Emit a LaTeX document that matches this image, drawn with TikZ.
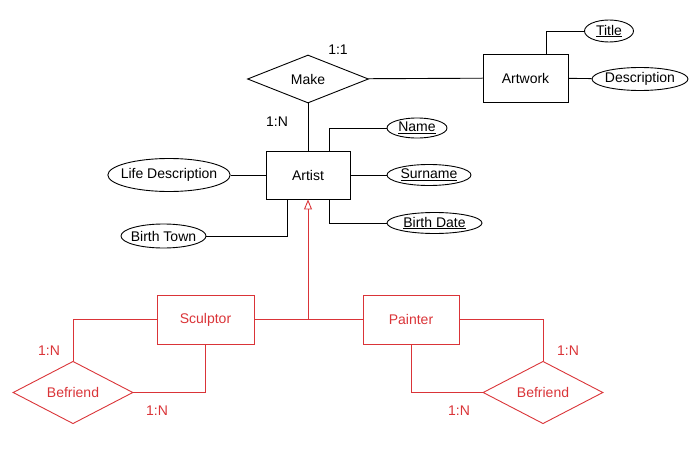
\documentclass[tikz,border=0pt]{standalone}
\usepackage{fontspec}
\setmainfont{Liberation Sans}
\usetikzlibrary{shapes.geometric,arrows.meta}
\definecolor{erred}{RGB}{218,52,56}

\begin{document}
\begin{tikzpicture}[x=1pt,y=-1pt,line width=0.9pt,
  font=\fontsize{14}{16}\selectfont,
  entity/.style={draw,rectangle,inner sep=0pt,minimum width=85pt,minimum height=48pt},
  relation/.style={draw,diamond,inner sep=0pt,minimum width=121pt,minimum height=48pt},
  attr/.style={draw,ellipse,inner xsep=-5pt,inner ysep=0pt},
  card/.style={inner sep=0pt}]
  \useasboundingbox (0,0) rectangle (696,452);
  % entites
  \node[relation] (make) at (308,79) {Make};
  \node[entity] (artwork) at (525.5,78) {Artwork};
  \node[entity, minimum width=84pt] (artist) at (308,175) {Artist};
  % attributs
  \node[attr, minimum width=49pt, minimum height=22pt] (title) at (609,31) {\underline{Title}};
  \node[attr, minimum width=96pt, minimum height=23pt] (descr) at (640,79) {Description};
  \node[attr, minimum width=60pt, minimum height=20pt] (name) at (417,128) {\underline{Name}};
  \node[attr, minimum width=84pt, minimum height=21pt] (surname) at (429,175) {\underline{Surname}};
  \node[attr, minimum width=95pt, minimum height=21pt] (bdate) at (434.5,223) {\underline{Birth Date}};
  \node[attr, minimum width=122pt, minimum height=33pt] (lifedescr) at (169,175) {Life Description};
  \node[attr, minimum width=85pt, minimum height=24pt] (btown) at (163.5,236) {Birth Town};
  % liens
  \draw (make) -- (artwork);
  \draw (make) -- (artist);
  \draw ([xshift=21pt]artwork.north) |- (title);
  \draw (artwork) -- (descr);
  \draw ([xshift=21pt]artist.north) |- (name);
  \draw (artist) -- (surname);
  \draw ([xshift=21pt]artist.south) |- (bdate);
  \draw (artist) -- (lifedescr);
  \draw ([xshift=-21pt]artist.south) |- (btown);
  % cardinalites
  \node[card] (c11) at (338,50) {1:1};
  \node[card] (c1n) at (277,122) {1:N};
  % specialisation
  \begin{scope}[color=erred]
    \node[entity, minimum width=97pt, minimum height=49pt] (sculptor) at (205.5,319.5) {Sculptor};
    \node[entity, minimum width=96pt, minimum height=49pt] (painter) at (411,319.5) {Painter};
    \node[relation, minimum width=120pt, minimum height=49pt] (befl) at (73,392.5) {Befriend};
    \node[relation, minimum width=120pt, minimum height=49pt] (befr) at (543,392.5) {Befriend};
    \coordinate (junc) at (308,319.5);
    \draw (sculptor) -- (painter);
    \draw[-{Triangle[open,length=10pt,width=8pt]}] (junc) -- (artist.south);
    \draw (sculptor.west) -| (befl.north);
    \draw (sculptor.south) |- (befl.east);
    \draw (painter.east) -| (befr.north);
    \draw (painter.south) |- (befr.west);
    \node[card] (cl1) at (49,351) {1:N};
    \node[card] (cl2) at (157,411) {1:N};
    \node[card] (cr1) at (568,351) {1:N};
    \node[card] (cr2) at (459,411) {1:N};
  \end{scope}
\end{tikzpicture}
\end{document}
